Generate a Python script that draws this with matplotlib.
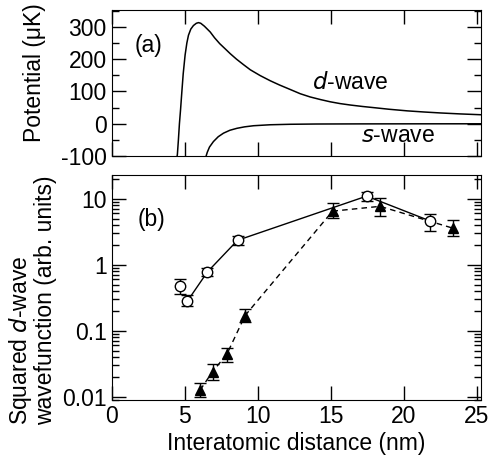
import numpy as np
import matplotlib
matplotlib.use("Agg")
import matplotlib.pyplot as plt
from matplotlib.ticker import MultipleLocator, FixedLocator, LogLocator, NullFormatter

plt.rcParams['font.family'] = ['Liberation Sans', 'DejaVu Sans']
plt.rcParams['font.size'] = 16.5
plt.rcParams['axes.unicode_minus'] = False

# (a) potential curves (nm, uK)
d_x = [4.44, 4.50, 4.57, 4.64, 4.72, 4.80, 4.90, 5.03, 5.15, 5.26, 5.42, 5.60, 5.80,
       5.95, 6.10, 6.35, 6.75, 7.05, 7.40, 7.75, 8.12, 8.55, 9.03, 9.5, 10.18, 10.87,
       11.5, 12.24, 12.92, 13.6, 14.3, 14.98, 15.65, 16.36, 17.2, 17.95, 19.0, 20.25,
       21.4, 22.53, 23.9, 25.3]
d_y = [-110, -95, -50, 0, 45, 95, 155, 213, 250, 274, 293, 304, 311,
       313, 311, 302, 284, 266, 248, 233, 217, 200, 183, 167, 149, 133,
       120, 106, 93, 83, 75, 68, 62.5, 58, 53.5, 50, 45, 40,
       36.5, 33.5, 30.5, 28]
s_x = [6.40, 6.55, 6.7, 6.97, 7.3, 7.66, 8.1, 8.58, 9.1, 9.72, 10.86, 12.24, 14.0, 17.0, 21.0, 25.3]
s_y = [-110, -88, -72, -55, -40, -29, -20, -14, -9.5, -6, -3, -1.5, -0.7, -0.3, -0.1, 0]

# (b) squared d-wave wavefunction, open circles
c_x = [4.67, 5.18, 6.56, 8.62, 17.47, 21.84]
c_y = [0.48, 0.28, 0.78, 2.35, 11.0, 4.6]
c_lo = [0.36, 0.24, 0.67, 2.02, 9.2, 3.3]
c_hi = [0.60, 0.35, 0.89, 2.77, 12.6, 5.8]

# (b) filled triangles
t_x = [6.06, 6.91, 7.89, 9.14, 15.13, 18.39, 23.36]
t_y = [0.0126, 0.024, 0.044, 0.17, 6.5, 7.7, 3.6]
t_lo = [0.010, 0.018, 0.034, 0.136, 5.1, 5.4, 2.7]
t_hi = [0.016, 0.031, 0.054, 0.21, 8.7, 10.2, 4.7]

fig = plt.figure(figsize=(4.91, 4.66), dpi=100)
ax1 = fig.add_axes([0.2275, 0.665, 0.752, 0.3135])
ax2 = fig.add_axes([0.2275, 0.1416, 0.752, 0.4829])

for ax in (ax1, ax2):
    ax.tick_params(which='both', direction='in', top=True, right=True, width=1)
    ax.tick_params(which='major', length=10)
    ax.tick_params(which='minor', length=5)
    ax.set_xlim(0, 25.3)
    ax.xaxis.set_major_locator(MultipleLocator(5))

# top panel
ax1.plot(d_x, d_y, color='black', lw=1.1)
ax1.plot(s_x, s_y, color='black', lw=1.1)
ax1.set_ylim(-100, 352)
ax1.yaxis.set_major_locator(MultipleLocator(100))
ax1.yaxis.set_minor_locator(MultipleLocator(50))
ax1.set_xticklabels([])
ax1.set_ylabel('Potential (μK)')
ax1.yaxis.set_label_coords(-0.177, 0.57)
ax1.text(0.062, 0.76, '(a)', transform=ax1.transAxes, va='center', ha='left')
ax1.text(0.543, 0.507, '$d$-wave', transform=ax1.transAxes, va='center', ha='left')
ax1.text(0.676, 0.144, '$s$-wave', transform=ax1.transAxes, va='center', ha='left')

# bottom panel
c_y = np.array(c_y)
t_y = np.array(t_y)
c_err = [c_y - np.array(c_lo), np.array(c_hi) - c_y]
t_err = [t_y - np.array(t_lo), np.array(t_hi) - t_y]

ax2.plot(c_x[1:], c_y[1:], color='black', lw=1, zorder=2)
ax2.plot(t_x, t_y, color='black', lw=1, ls=(0, (4, 3)), zorder=2)
ax2.errorbar(c_x, c_y, yerr=c_err, fmt='o', ms=7.5, mfc='white', mec='black', mew=1,
             ecolor='black', elinewidth=1, capsize=4.2, capthick=1, zorder=3)
ax2.errorbar(t_x, t_y, yerr=t_err, fmt='^', ms=7, mfc='black', mec='black',
             ecolor='black', elinewidth=1, capsize=4.2, capthick=1, zorder=3)

ax2.set_yscale('log')
ax2.set_ylim(0.0089, 23)
ax2.yaxis.set_major_locator(FixedLocator([0.01, 0.1, 1, 10]))
ax2.set_yticklabels(['0.01', '0.1', '1', '10'])
ax2.yaxis.set_minor_locator(LogLocator(base=10, subs=np.arange(2, 10), numticks=20))
ax2.yaxis.set_minor_formatter(NullFormatter())
ax2.set_xlabel('Interatomic distance (nm)', labelpad=3)
ax2.set_ylabel('Squared $d$-wave\nwavefunction (arb. units)', linespacing=1.0,
               multialignment='left')
ax2.yaxis.set_label_coords(-0.147, 0.444)
ax2.text(0.07, 0.8, '(b)', transform=ax2.transAxes, va='center', ha='left')

fig.savefig('out.png', dpi=100)
